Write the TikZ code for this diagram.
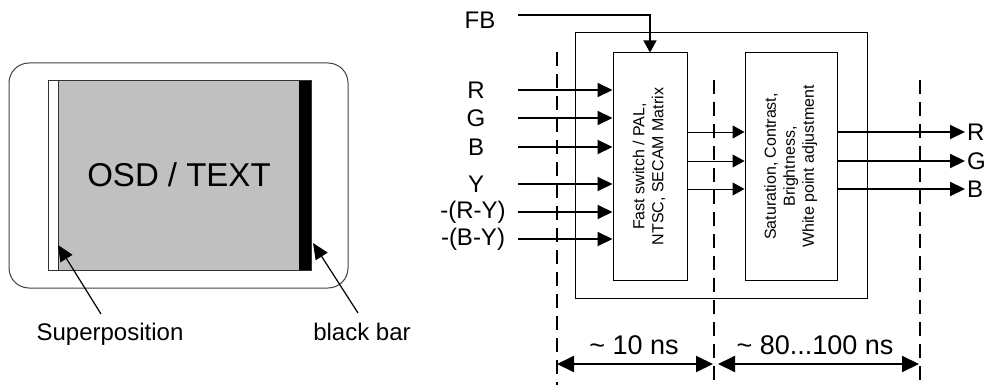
\documentclass[tikz,border=0pt]{standalone}
\usepackage{fontspec}
\setmainfont{Liberation Sans}
\usepackage{graphicx}
\usetikzlibrary{arrows.meta,positioning,calc}
\definecolor{osdgray}{RGB}{192,192,192}
\newcommand{\vtext}[1]{\rotatebox{90}{\begin{tabular}{@{}c@{}}#1\end{tabular}}}

\begin{document}
\begin{tikzpicture}[
  x=1pt, y=-1pt,
  lbl/.style={font=\fontsize{24}{28}\selectfont, inner sep=2pt},
  procbox/.style={draw, line width=1pt, inner sep=0pt, minimum height=227pt, font=\fontsize{16}{19}\selectfont},
  frame/.style={draw, line width=1pt, inner sep=0pt},
  arr/.style={-{Triangle[length=15pt,width=14pt]}, line width=2pt},
  thinarr/.style={-{Triangle[length=12pt,width=13pt]}, line width=1pt},
  dimarr/.style={{Triangle[length=17pt,width=16pt]}-{Triangle[length=17pt,width=16pt]}, line width=2pt},
  dline/.style={line width=1.5pt, dash pattern=on 14pt off 8pt},
  ptr/.style={-{Triangle[length=16pt,width=14pt]}, line width=1.2pt}
]
\useasboundingbox (0,0) rectangle (984,385);

% screen with OSD window
\draw[rounded corners=20pt, line width=1pt, draw=black!75] (9,63) rectangle (348,288);
\fill[white] (48,80) rectangle (59,270);
\node[fill=osdgray, minimum width=240pt, minimum height=190pt, inner sep=0pt,
      font=\fontsize{33}{38}\selectfont] (osd) at (179,175) {OSD / TEXT};
\fill[black] (299,80) rectangle (311,270);
\draw[line width=0.8pt, draw=black!80] (48,80) rectangle (311,270);
\draw[line width=0.8pt, draw=black!80] (osd.north west) -- (osd.south west);

\node[lbl] (sup) at (110,334) {Superposition};
\node[lbl] (bbar) at (362,332) {black bar};
\coordinate (suptip) at (58,245);
\coordinate (supfrom) at (101,314);
\coordinate (bartip) at (313,243);
\coordinate (barfrom) at (358,313);
\draw[ptr] (supfrom) -- (suptip);
\draw[ptr] (barfrom) -- (bartip);

% signal processing chain
\node[frame, minimum width=292pt, minimum height=265pt] (frm) at (721,165.5) {};
\node[procbox, minimum width=74pt] (fsw) at (650,166.5) {\vtext{Fast switch / PAL,\\NTSC, SECAM Matrix}};
\node[procbox, minimum width=92pt] (adj) at (791,166.5) {\vtext{Saturation, Contrast,\\Brightness,\\White point adjustment}};

\node[lbl] (fb) at (480,20) {FB};
\coordinate (fbin) at (518,15);
\draw[-{Triangle[length=12pt,width=13pt]}, line width=1.2pt] (fbin) -| (fsw.north);

\coordinate (instart) at (518,0);
\node[lbl] (iR) at (476,90) {R};
\node[lbl] (iG) at (476,118) {G};
\node[lbl] (iB) at (476,147) {B};
\node[lbl] (iY) at (476,184) {Y};
\node[lbl] (iRY) at (473,212) {-(R-Y)};
\node[lbl] (iBY) at (473,239) {-(B-Y)};
\draw[arr] (iR -| instart) -- (iR -| fsw.west);
\draw[arr] (iG -| instart) -- (iG -| fsw.west);
\draw[arr] (iB -| instart) -- (iB -| fsw.west);
\draw[arr] (iY -| instart) -- (iY -| fsw.west);
\draw[arr] (iRY -| instart) -- (iRY -| fsw.west);
\draw[arr] (iBY -| instart) -- (iBY -| fsw.west);

\node[lbl, anchor=west] (oR) at (965,132) {R};
\node[lbl, anchor=west] (oG) at (965,161) {G};
\node[lbl, anchor=west] (oB) at (965,189) {B};
\draw[thinarr] (fsw.east |- oR) -- (adj.west |- oR);
\draw[thinarr] (fsw.east |- oG) -- (adj.west |- oG);
\draw[thinarr] (fsw.east |- oB) -- (adj.west |- oB);
\draw[arr] (adj.east |- oR) -- (oR.west);
\draw[arr] (adj.east |- oG) -- (oG.west);
\draw[arr] (adj.east |- oB) -- (oB.west);

% timing
\draw[dline] (557,52) -- (557,385);
\draw[dline] (714,80) -- (714,385);
\draw[dline] (920,80) -- (920,385);
\coordinate (m1) at (557,364);
\coordinate (m2) at (713,364);
\coordinate (m3) at (718,364);
\coordinate (m4) at (919,364);
\draw[dimarr] (m1) -- (m2);
\draw[dimarr] (m3) -- (m4);
\node[font=\fontsize{27}{30}\selectfont] (t1) at (634,345) {\textasciitilde{} 10 ns};
\node[font=\fontsize{27}{30}\selectfont] (t2) at (815,345) {\textasciitilde{} 80...100 ns};
\end{tikzpicture}
\end{document}
